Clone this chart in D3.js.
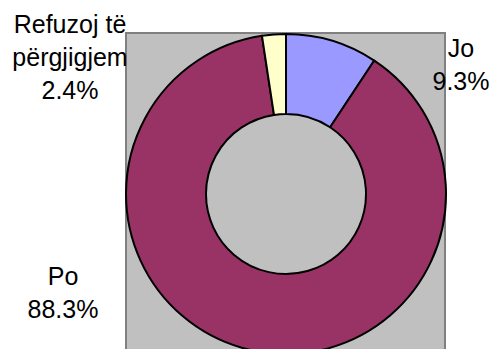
<!DOCTYPE html>
<html>
<head>
<meta charset="utf-8">
<script src="https://cdn.jsdelivr.net/npm/d3@7"></script>
<style>
  html, body { margin: 0; padding: 0; background: #fff; }
  svg { display: block; }
  text { font-family: "Liberation Sans", Arial, sans-serif; fill: #000; }
</style>
</head>
<body>
<svg id="chart" width="494" height="349"></svg>
<script>
// Answer categories and their shares (%)
const categories = ["Jo", "Po", "Refuzoj të përgjigjem"];
const values = [9.3, 88.3, 2.4];
const colors = ["#9999FF", "#993366", "#FFFFCC"];
// Label lines per category (name wrapped as shown, then percentage)
const labelLines = [["Jo"], ["Po"], ["Refuzoj të", "përgjigjem"]];

const W = 494, H = 349;
const svg = d3.select("#chart");

// Plot area
const plot = { x: 126, y: 33, w: 319, h: 340 };
svg.append("rect")
  .attr("x", plot.x).attr("y", plot.y)
  .attr("width", plot.w).attr("height", plot.h)
  .attr("fill", "#C0C0C0")
  .attr("stroke", "#808080")
  .attr("stroke-width", 2);

const cx = 286, cy = 194, outerR = 160, innerR = 80;

const pie = d3.pie().sort(null).value(d => d);
const arcs = pie(values);
const arc = d3.arc().innerRadius(innerR).outerRadius(outerR);

const g = svg.append("g").attr("transform", `translate(${cx},${cy})`);
g.selectAll("path.slice")
  .data(arcs)
  .enter().append("path")
  .attr("class", "slice")
  .attr("d", arc)
  .attr("fill", (d, i) => colors[i])
  .attr("stroke", "#000")
  .attr("stroke-width", 2)
  .attr("stroke-linejoin", "round");

// Data labels: category name above the percentage
const labelPos = [
  { x: 461, y: 57 },   // Jo
  { x: 63, y: 285 },   // Po
  { x: 70, y: 33 }     // Refuzoj të përgjigjem
];
const fmt = d3.format(".1f");
const lineH = 33;
categories.forEach((c, i) => {
  const lines = labelLines[i].concat([fmt(values[i]) + "%"]);
  const t = svg.append("text")
    .attr("text-anchor", "middle")
    .attr("font-size", 25);
  lines.forEach((ln, k) => {
    t.append("tspan")
      .attr("x", labelPos[i].x)
      .attr("y", labelPos[i].y + k * lineH)
      .text(ln);
  });
});
</script>
</body>
</html>
